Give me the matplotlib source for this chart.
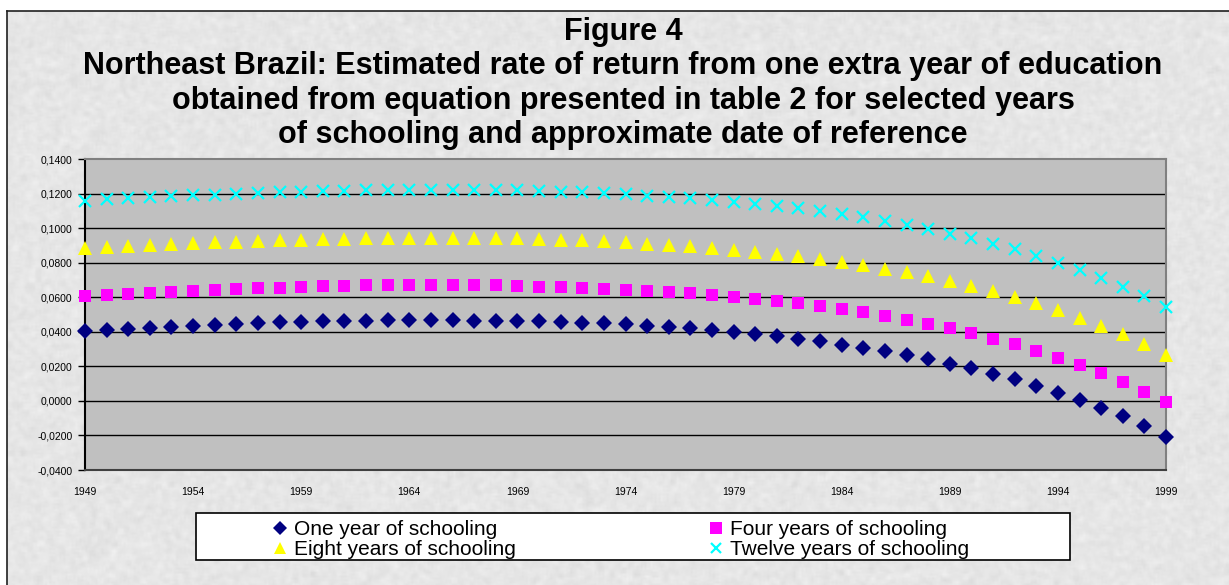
import numpy as np
import matplotlib
matplotlib.use("Agg")
import matplotlib.pyplot as plt
from matplotlib.patches import Rectangle
from matplotlib.lines import Line2D

plt.rcParams['font.family'] = ['Liberation Sans', 'DejaVu Sans']

years = list(range(1949, 2000))
tick_years = list(range(1949, 2000, 5))

one_year = [
    0.0402, 0.0409, 0.0415, 0.0420, 0.0427, 0.0434, 0.0440, 0.0444, 0.0450, 0.0454,
    0.0457, 0.0460, 0.0463, 0.0465, 0.0466, 0.0466, 0.0467, 0.0467, 0.0465, 0.0464,
    0.0462, 0.0460, 0.0456, 0.0453, 0.0448, 0.0443, 0.0436, 0.0429, 0.0420, 0.0411,
    0.0401, 0.0390, 0.0376, 0.0361, 0.0344, 0.0326, 0.0307, 0.0288, 0.0266, 0.0242,
    0.0216, 0.0188, 0.0158, 0.0125, 0.0088, 0.0048, 0.0006, -0.0041, -0.0090, -0.0146,
    -0.0210,
]
four_years = [
    0.0605, 0.0613, 0.0619, 0.0625, 0.0631, 0.0637, 0.0642, 0.0648, 0.0652, 0.0656,
    0.0660, 0.0664, 0.0667, 0.0669, 0.0670, 0.0671, 0.0671, 0.0671, 0.0670, 0.0668,
    0.0665, 0.0662, 0.0658, 0.0654, 0.0649, 0.0643, 0.0637, 0.0630, 0.0622, 0.0613,
    0.0603, 0.0592, 0.0579, 0.0565, 0.0550, 0.0532, 0.0513, 0.0493, 0.0471, 0.0447,
    0.0421, 0.0392, 0.0361, 0.0327, 0.0291, 0.0251, 0.0208, 0.0161, 0.0110, 0.0054,
    -0.0007,
]
eight_years = [
    0.0882, 0.0890, 0.0896, 0.0902, 0.0908, 0.0913, 0.0918, 0.0922, 0.0926, 0.0930,
    0.0933, 0.0936, 0.0939, 0.0941, 0.0943, 0.0944, 0.0945, 0.0945, 0.0944, 0.0942,
    0.0940, 0.0937, 0.0933, 0.0929, 0.0923, 0.0917, 0.0910, 0.0902, 0.0894, 0.0885,
    0.0874, 0.0863, 0.0851, 0.0838, 0.0824, 0.0805, 0.0786, 0.0766, 0.0744, 0.0720,
    0.0694, 0.0666, 0.0635, 0.0602, 0.0566, 0.0525, 0.0482, 0.0436, 0.0386, 0.0329,
    0.0267,
]
twelve_years = [
    0.1158, 0.1166, 0.1172, 0.1178, 0.1184, 0.1189, 0.1194, 0.1199, 0.1203, 0.1207,
    0.1211, 0.1214, 0.1217, 0.1219, 0.1221, 0.1222, 0.1223, 0.1223, 0.1222, 0.1220,
    0.1218, 0.1215, 0.1211, 0.1207, 0.1201, 0.1195, 0.1188, 0.1181, 0.1172, 0.1163,
    0.1153, 0.1142, 0.1129, 0.1115, 0.1100, 0.1081, 0.1062, 0.1042, 0.1019, 0.0995,
    0.0968, 0.0940, 0.0909, 0.0877, 0.0840, 0.0800, 0.0758, 0.0711, 0.0661, 0.0605,
    0.0543,
]

series = [
    ("One year of schooling", one_year, 'D', '#000080', 8),
    ("Four years of schooling", four_years, 's', '#ff00ff', 9),
    ("Eight years of schooling", eight_years, '^', '#ffff00', 10),
    ("Twelve years of schooling", twelve_years, 'x', '#00ffff', 8),
]

W, H = 1229, 585
fig = plt.figure(figsize=(W / 100, H / 100), dpi=100, facecolor='white')

# granite-like backdrop behind the whole chart
bg = fig.add_axes([7 / W, -0.02, 1.02 - 7 / W, (H - 11) / H + 0.02])
rng = np.random.default_rng(7)
noise = rng.normal(0, 1, (300, 620))
k = np.ones(3) / 3
noise = np.apply_along_axis(lambda r: np.convolve(r, k, mode='same'), 1, noise)
noise = np.apply_along_axis(lambda c: np.convolve(c, k, mode='same'), 0, noise)
tex = np.clip(0.90 + 0.032 * noise, 0, 1)
bg.imshow(tex, cmap='gray', vmin=0, vmax=1, aspect='auto', interpolation='bilinear')
bg.set_xticks([])
bg.set_yticks([])
for side in ('right', 'bottom'):
    bg.spines[side].set_visible(False)
for side in ('top', 'left'):
    bg.spines[side].set_color('#202020')
    bg.spines[side].set_linewidth(1.2)

fig.text(623 / W, 1 - 32 / H, "Figure 4", ha='center', va='center',
         fontsize=22, fontweight='bold')
title_lines = [
    "Northeast Brazil: Estimated rate of return from one extra year of education",
    "obtained from equation presented in table 2 for selected years",
    "of schooling and approximate date of reference",
]
for i, line in enumerate(title_lines):
    fig.text(623 / W, 1 - (66 + 34.5 * i) / H, line, ha='center', va='center',
             fontsize=22, fontweight='bold')

left, right, top, bottom = 85, 1166, 159, 470
ax = fig.add_axes([left / W, 1 - bottom / H, (right - left) / W, (bottom - top) / H])
ax.set_facecolor('#c0c0c0')
ax.set_xlim(1949, 1999)
ax.set_ylim(-0.04, 0.14)
yt = np.round(np.arange(-0.04, 0.1401, 0.02), 4)
ax.set_yticks(yt)
ax.set_yticklabels([f"{v:.4f}".replace('.', ',') for v in yt], fontsize=7.5)
ax.set_xticks(tick_years)
ax.set_xticklabels([str(y) for y in tick_years], fontsize=7.5)
ax.tick_params(axis='x', length=0, pad=12)
ax.tick_params(axis='y', length=5, width=1, pad=4, direction='out')
for v in yt[1:-1]:
    ax.axhline(v, color='black', lw=1, zorder=1)
ax.spines['left'].set_color('black')
ax.spines['bottom'].set_color('#404040')
ax.spines['top'].set_color('#808080')
ax.spines['right'].set_color('#808080')
for s in ax.spines.values():
    s.set_linewidth(1.5)

for name, vals, mk, col, ms in series:
    if mk == 'x':
        ax.plot(years, vals, linestyle='none', marker=mk, ms=ms, mew=1.6,
                color=col, clip_on=False, zorder=3)
    else:
        ax.plot(years, vals, linestyle='none', marker=mk, ms=ms, mew=0,
                color=col, clip_on=False, zorder=3)

# legend box
fig.patches.append(Rectangle((196 / W, 1 - 560 / H), (1070 - 196) / W, 47 / H,
                             transform=fig.transFigure, facecolor='white',
                             edgecolor='black', lw=1.2, zorder=2))
order = ["One year of schooling", "Eight years of schooling",
         "Four years of schooling", "Twelve years of schooling"]
lookup = {s[0]: s for s in series}
leg_handles = []
for name in order:
    _, _, mk, col, ms = lookup[name]
    if mk == 'x':
        leg_handles.append(Line2D([], [], linestyle='none', marker=mk, ms=7, mew=1.6, color=col))
    else:
        leg_handles.append(Line2D([], [], linestyle='none', marker=mk, ms=ms - 1, mew=0, color=col))
fig.legend(leg_handles, order, loc='upper left', bbox_to_anchor=(267.5 / W, 1 - 516 / H),
           ncol=2, frameon=False, fontsize=15, handlelength=0.8, handletextpad=0.25,
           columnspacing=9.25, labelspacing=0.05, borderpad=0.2, borderaxespad=0)

fig.savefig('out.png', dpi=100, facecolor=fig.get_facecolor())
